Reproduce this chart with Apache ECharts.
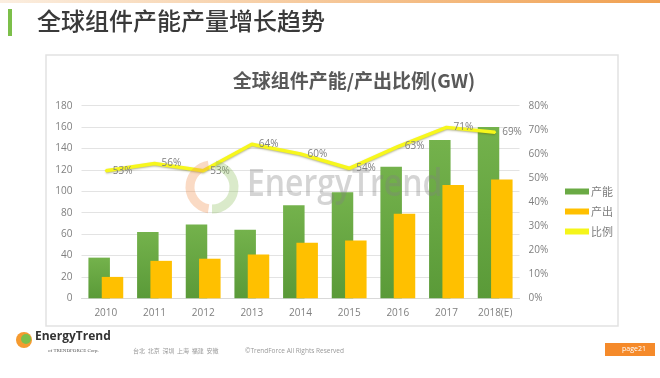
<!DOCTYPE html>
<html>
<head>
<meta charset="utf-8">
<script src="https://cdn.jsdelivr.net/npm/echarts@6/dist/echarts.min.js"></script>
<style>
html,body{margin:0;padding:0;background:#fff;}
#c{width:660px;height:378px;}
</style>
</head>
<body>
<div id="c"></div>
<script>
var categories = ['2010','2011','2012','2013','2014','2015','2016','2017','2018(E)'];
var capacity = [38, 62, 69, 64, 87, 99, 123, 148, 160];
var output = [20, 35, 37, 41, 52, 54, 79, 106, 111];
var ratio = [53, 56, 53, 64, 60, 54, 63, 71, 69];
var leftTicks = [0, 180, 20];
var rightTicks = [0, 80, 10];
var seriesNames = ['产能', '产出', '比例'];

var chart = echarts.init(document.getElementById('c'), null, {renderer: 'canvas'});
var cjk = '"Noto Sans CJK SC", "Noto Sans", sans-serif';
var lat = '"Open Sans", "Noto Sans", sans-serif';

var option = {
  animation: false,
  backgroundColor: '#fff',
  textStyle: {fontFamily: lat},
  title: {
    text: '全球组件产能/产出比例(GW)',
    left: 349, top: 66, textAlign: 'center',
    textStyle: {fontFamily: cjk, fontSize: 19, fontWeight: 'bold', color: '#595959'}
  },
  legend: {
    orient: 'vertical',
    left: 560, top: 181,
    itemWidth: 24, itemHeight: 6, itemGap: 9,
    textStyle: {fontFamily: cjk, fontSize: 11, color: '#7f7f7f', padding: [0,0,0,-3]},
    data: [
      {name: seriesNames[0], icon: 'rect', itemStyle: {color: '#6aaa44', opacity: 1}},
      {name: seriesNames[1], icon: 'rect', itemStyle: {color: '#FFC000', opacity: 1}},
      {name: seriesNames[2], icon: 'rect', itemStyle: {color: '#f5f51a', opacity: 1}}
    ]
  },
  grid: {left: 81.5, right: 140.5, top: 105.7, bottom: 79.7, containLabel: false},
  xAxis: {
    type: 'category',
    data: categories,
    axisLine: {lineStyle: {color: '#d9d9d9'}},
    axisTick: {show: false},
    axisLabel: {color: '#7f7f7f', fontSize: 10, margin: 10}
  },
  yAxis: [
    {
      type: 'value', min: leftTicks[0], max: leftTicks[1], interval: leftTicks[2],
      axisLine: {show: false}, axisTick: {show: false},
      axisLabel: {color: '#7f7f7f', fontSize: 10, margin: 9},
      splitLine: {lineStyle: {color: '#e3e3e3'}}
    },
    {
      type: 'value', min: rightTicks[0], max: rightTicks[1], interval: rightTicks[2],
      axisLine: {show: false}, axisTick: {show: false},
      axisLabel: {color: '#7f7f7f', fontSize: 10, margin: 9, formatter: '{value}%'},
      splitLine: {show: false}
    }
  ],
  series: [
    {
      name: seriesNames[0], type: 'bar', data: capacity,
      barWidth: 21.5, barGap: '-38%',
      itemStyle: {color: new echarts.graphic.LinearGradient(0,0,0,1,[{offset:0,color:'#74b24c'},{offset:1,color:'#5a9a38'}])}
    },
    {
      name: seriesNames[1], type: 'bar', data: output,
      barWidth: 21.5,
      itemStyle: {color: '#FFC000'}
    },
    {
      name: seriesNames[2], type: 'line', yAxisIndex: 1, data: ratio,
      symbol: 'circle', symbolSize: 2, showSymbol: true, showAllSymbol: true, z: 5,
      lineStyle: {color: '#f7f71c', width: 3.5, shadowColor: 'rgba(90,90,0,0.45)', shadowBlur: 2, shadowOffsetY: 1},
      itemStyle: {color: '#f7f71c'},
      label: {show: true, position: 'right', distance: 6, formatter: '{c}%', color: '#7f7f7f', fontSize: 10, fontFamily: lat},
      labelLayout: {hideOverlap: false}
    }
  ],
  graphic: [
    {type: 'rect', shape: {x: 0, y: 0, width: 660, height: 3}, style: {fill: new echarts.graphic.LinearGradient(0,0,1,0,[{offset:0,color:'#fbeee0'},{offset:1,color:'#f0a050'}])}, z: 10},
    {type: 'rect', shape: {x: 8, y: 9, width: 4, height: 27}, style: {fill: '#7cbf4a'}, z: 10},
    {type: 'text', left: 37, top: 9, style: {text: '全球组件产能产量增长趋势', font: '500 24px "Noto Sans CJK SC", sans-serif', fill: '#3a3a3a'}, z: 10},
    {type: 'rect', shape: {x: 46, y: 55, width: 572, height: 271}, style: {fill: 'none', stroke: '#e2e2e2', lineWidth: 1.5}, z: -1, silent: true},
    {type: 'arc', shape: {cx: 212, cy: 187, r: 22, startAngle: Math.PI*0.55, endAngle: Math.PI*1.45}, style: {stroke: 'rgba(240,140,70,0.32)', lineWidth: 9, fill: 'none'}, z: 20, silent: true},
    {type: 'arc', shape: {cx: 212, cy: 187, r: 22, startAngle: -Math.PI*0.45, endAngle: Math.PI*0.5}, style: {stroke: 'rgba(140,190,90,0.32)', lineWidth: 9, fill: 'none'}, z: 20, silent: true},
    {type: 'text', x: 247, y: 166, scaleX: 0.84, style: {text: 'EnergyTrend', font: '600 38px "Open Sans", sans-serif', fill: 'rgba(130,130,130,0.34)'}, z: 20, silent: true},
    {type: 'circle', shape: {cx: 24, cy: 340, r: 8}, style: {fill: '#f59a2f'}, z: 10},
    {type: 'circle', shape: {cx: 26, cy: 339, r: 5}, style: {fill: '#7cbf4a'}, z: 10},
    {type: 'text', left: 35, top: 331, style: {text: 'EnergyTrend', font: 'bold 12px "Open Sans", sans-serif', fill: '#333'}, z: 10},
    {type: 'text', left: 48, top: 348, style: {text: 'of TRENDFORCE Corp.', font: '5px "Liberation Serif", serif', fill: '#555'}, z: 10},
    {type: 'text', left: 133, top: 348, style: {text: '台北  北京  深圳  上海  福建  安徽', font: '6px "Noto Sans CJK SC", sans-serif', fill: '#999'}, z: 10},
    {type: 'text', left: 245, top: 348, style: {text: '©TrendForce All Rights Reserved', font: '6.5px "Open Sans", sans-serif', fill: '#999'}, z: 10},
    {type: 'rect', shape: {x: 605, y: 343, width: 50, height: 13}, style: {fill: '#f58a2a'}, z: 10},
    {type: 'text', left: 622, top: 345, style: {text: 'page21', font: '7px "Open Sans", sans-serif', fill: '#fff'}, z: 11}
  ]
};
chart.setOption(option);
</script>
</body>
</html>
